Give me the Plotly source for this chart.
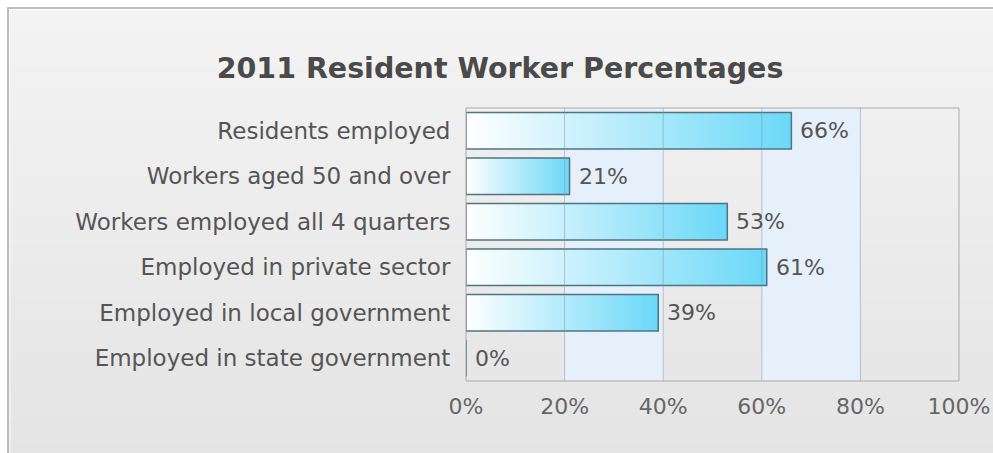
import plotly.graph_objects as go

categories = ["Residents employed", "Workers aged 50 and over", "Workers employed all 4 quarters",
              "Employed in private sector", "Employed in local government", "Employed in state government"]
values = [66, 21, 53, 61, 39, 0]
x_ticks = [0, 20, 40, 60, 80, 100]
x_tick_labels = ["0%", "20%", "40%", "60%", "80%", "100%"]
title_text = "2011 Resident Worker Percentages"

W, H = 993, 453
L, R, T, B = 466, 34, 108, 72
PW, PH = W - L - R, H - T - B

def px_x(p):
    return (p - L) / PW

def px_y(p):
    return 1 - (p - T) / PH

FONT = "DejaVu Sans"
FS = 22
half = 0.4
grad = [[0, "#ffffff"], [0.3, "#d2f3fd"], [1, "#6bd8f7"]]

fig = go.Figure()
for i, (cat, v) in enumerate(zip(categories, values)):
    if v > 0:
        fig.add_trace(go.Scatter(
            x=[0, v, v, 0, 0], y=[i - half, i - half, i + half, i + half, i - half],
            mode="lines", fill="toself",
            fillgradient=dict(type="horizontal", colorscale=grad),
            line=dict(color="#4d7584", width=1.5), hoverinfo="skip", showlegend=False))
    else:
        fig.add_trace(go.Scatter(
            x=[v, v], y=[i - half, i + half], mode="lines",
            line=dict(color="#4d7584", width=2), hoverinfo="skip", showlegend=False))
    fig.add_annotation(x=v, y=i, text=f"{v}%", showarrow=False, xanchor="left",
                       xshift=7, font=dict(family=FONT, size=FS, color="#555555"))

shapes = []
n = 40
for k in range(n):
    t0 = k / n
    c = int(round(0xf3 - (0xf3 - 0xe4) * t0))
    y0p = 10 + (H - 10) * k / n
    y1p = 10 + (H - 10) * (k + 1) / n + 1
    shapes.append(dict(type="rect", xref="paper", yref="paper", layer="below",
                       x0=px_x(9), x1=px_x(W + 5), y0=px_y(y0p), y1=px_y(y1p),
                       fillcolor=f"rgb({c},{c},{c})", line=dict(width=0)))
shapes.append(dict(type="rect", xref="paper", yref="paper", layer="below",
                   x0=px_x(8), x1=px_x(W + 10), y0=px_y(8), y1=px_y(H + 10),
                   line=dict(color="#bdbdbd", width=2), fillcolor="rgba(0,0,0,0)"))
shapes.append(dict(type="rect", xref="paper", yref="paper", layer="below",
                   x0=px_x(10), x1=px_x(W + 10), y0=px_y(10), y1=px_y(H + 10),
                   line=dict(color="#fafafa", width=1), fillcolor="rgba(0,0,0,0)"))
for a, b in [(20, 40), (60, 80)]:
    shapes.append(dict(type="rect", xref="x", yref="paper", layer="below",
                       x0=a, x1=b, y0=0, y1=1, fillcolor="#e6f0fb", line=dict(width=0)))
for g in x_ticks[1:-1]:
    shapes.append(dict(type="line", xref="x", yref="paper", layer="above",
                       x0=g, x1=g, y0=0, y1=1, line=dict(color="rgba(120,140,160,0.45)", width=1)))
shapes.append(dict(type="rect", xref="paper", yref="paper", layer="above",
                   x0=0, x1=1, y0=0, y1=1, line=dict(color="#a9a9a9", width=1)))

fig.update_layout(
    width=W, height=H, margin=dict(l=L, r=R, t=T, b=B, autoexpand=False),
    paper_bgcolor="#ffffff", plot_bgcolor="#ffffff",
    shapes=shapes, showlegend=False,
    title=dict(text=f"<b>{title_text}</b>", x=500 / W, xanchor="center", xref="container",
               y=1 - 68 / H, yanchor="middle",
               font=dict(family=FONT, size=28.5, color="#4a4a4a")),
    xaxis=dict(range=[0, 100], tickvals=x_ticks, ticktext=x_tick_labels,
               showgrid=False, zeroline=False, showline=False, automargin=False,
               ticks="outside", ticklen=6, tickcolor="rgba(0,0,0,0)",
               tickfont=dict(family=FONT, size=FS, color="#666666"), fixedrange=True),
    yaxis=dict(range=[5.5, -0.5], tickvals=list(range(len(categories))), ticktext=categories,
               showgrid=False, zeroline=False, showline=False, automargin=False,
               ticks="outside", ticklen=10, tickcolor="rgba(0,0,0,0)",
               tickfont=dict(family=FONT, size=23, color="#555555"), fixedrange=True),
)

fig.write_html("out.html")
